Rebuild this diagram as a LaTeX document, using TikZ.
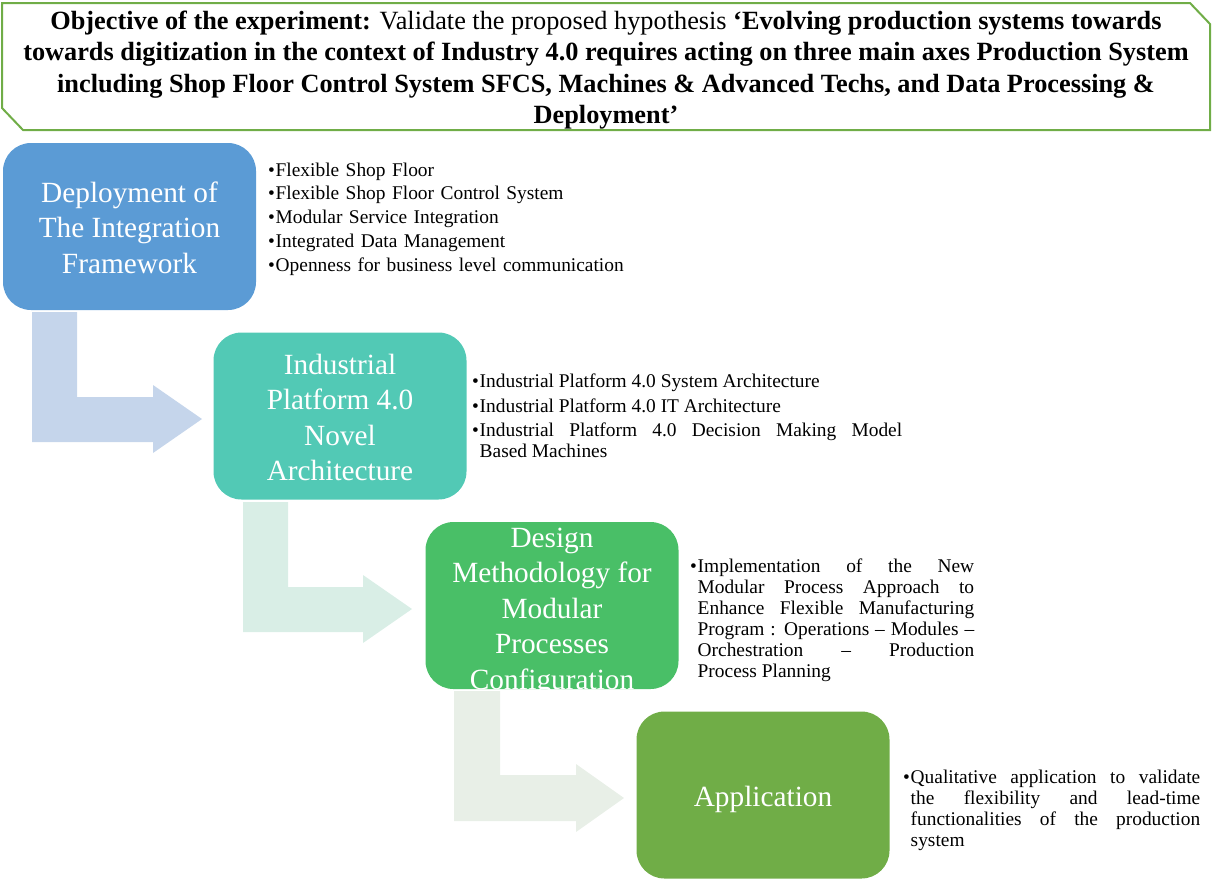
\documentclass[tikz,border=0pt]{standalone}
\usepackage{fontspec}
\setmainfont{Liberation Serif}
\definecolor{bannerline}{HTML}{70AD47}
\definecolor{cbox1}{HTML}{5B9BD5}
\definecolor{cbox2}{HTML}{52C9B5}
\definecolor{cbox3}{HTML}{49BF67}
\definecolor{cbox4}{HTML}{70AD47}
\definecolor{carr1}{HTML}{C5D5EB}
\definecolor{carr2}{HTML}{D9EEE6}
\definecolor{carr3}{HTML}{E8EFE7}
\newcommand\bul{\par\hangindent=7.5pt\hangafter=1\makebox[7.5pt][l]{•}}
\tikzset{
  stagebox/.style={rounded corners=28pt, minimum width=253pt, minimum height=167pt, inner sep=0pt, draw=none},
  boxtext/.style={text=white, font=\fontsize{29.3}{35.5}\selectfont, align=center, inner sep=0pt, anchor=north},
  listtext/.style={font=\fontsize{19.4}{21}\selectfont, inner sep=0pt, anchor=north west, align=justify},
}
\begin{document}
\begin{tikzpicture}[x=1pt,y=-1pt]
\useasboundingbox (0,0) rectangle (1212,879);
% banner
\draw[bannerline, line width=2pt] (2,3) -- (1190,3) -- (1210,24) -- (1210,130) -- (23,130) -- (2,108) -- cycle;
\node[font=\fontsize{26.3}{31.5}\selectfont, align=center, inner sep=0pt, anchor=north] (obj) at (606,7)
 {\strut\textbf{Objective of the experiment:} Validate the proposed hypothesis \textbf{‘Evolving production systems towards}\\
  \textbf{towards digitization in the context of Industry 4.0 requires acting on three main axes Production System}\\
  \textbf{including Shop Floor Control System SFCS, Machines \& Advanced Techs, and Data Processing \&}\\
  \textbf{Deployment’}};
% bent arrows
\fill[carr1] (32,312) -- (77,312) -- (77,397) -- (153,397) -- (153,385) -- (202,419) -- (153,453) -- (153,442) -- (32,442) -- cycle;
\fill[carr2] (243,502) -- (288,502) -- (288,587) -- (363,587) -- (363,575) -- (412,609) -- (363,643) -- (363,632) -- (243,632) -- cycle;
\fill[carr3] (454,691) -- (500,691) -- (500,775) -- (576,775) -- (576,764) -- (624,798) -- (576,832) -- (576,821) -- (454,821) -- cycle;
% boxes
\node[stagebox, fill=cbox1] (b1) at (129.5,226.5) {};
\node[stagebox, fill=cbox2] (b2) at (340,416) {};
\node[stagebox, fill=cbox3] (b3) at (552,605.5) {};
\node[stagebox, fill=cbox4] (b4) at (763,795) {};
\node[boxtext] (t1) at (129.5,177) {\strut Deployment of\\The Integration\\Framework};
\node[boxtext] (t2) at (340,349) {\strut Industrial\\Platform 4.0\\Novel\\Architecture};
\node[boxtext] (t3) at (552,522) {\strut Design\\Methodology for\\Modular\\Processes\\Configuration};
\node[boxtext, anchor=base] (t4) at (763,806) {Application};
% lists
\node[listtext, text width=400pt, align=left] (l1) at (268,152) {\setlength{\parskip}{2.8pt}%
 \bul\strut Flexible Shop Floor
 \bul Flexible Shop Floor Control System
 \bul Modular Service Integration
 \bul Integrated Data Management
 \bul Openness for business level communication\par};
\node[listtext, text width=430pt] (l2) at (472,363) {\setlength{\parskip}{3.5pt}%
 \bul\strut Industrial Platform 4.0 System Architecture
 \bul Industrial Platform 4.0 IT Architecture
 \bul Industrial Platform 4.0 Decision Making Model\linebreak Based Machines\par};
\node[listtext, text width=284pt] (l3) at (690,551.5) {%
 \bul\strut Implementation of the New\linebreak Modular Process Approach to\linebreak Enhance Flexible Manufacturing\linebreak Program : Operations – Modules –\linebreak Orchestration – Production\linebreak Process Planning\par};
\node[listtext, text width=297pt] (l4) at (903,762.3) {%
 \bul\strut Qualitative application to validate\linebreak the flexibility and lead-time\linebreak functionalities of the production\linebreak system\par};
\end{tikzpicture}
\end{document}
